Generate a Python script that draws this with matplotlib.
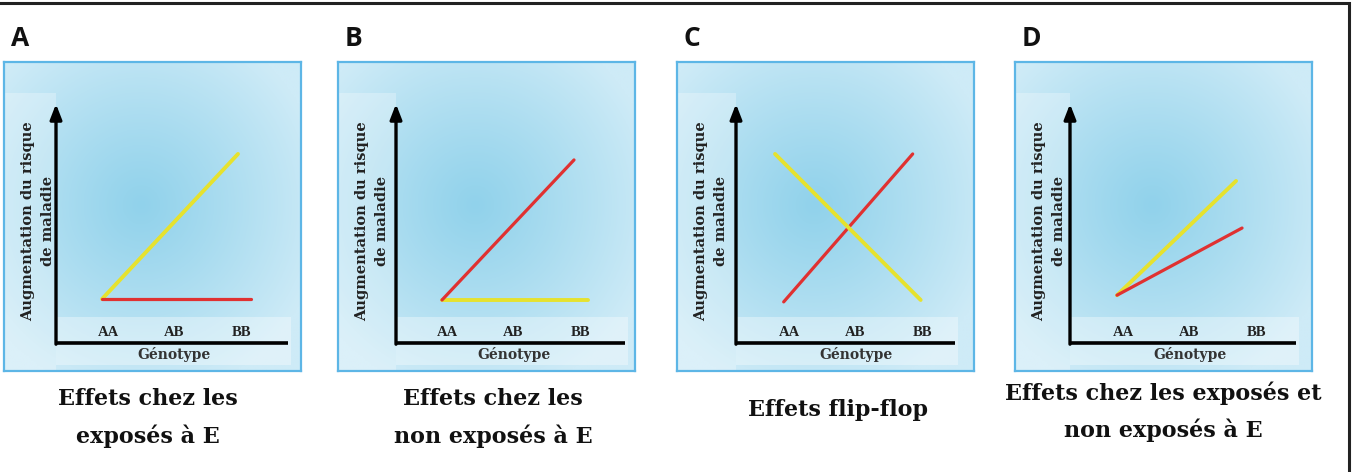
import numpy as np
import matplotlib
matplotlib.use("Agg")
import matplotlib.pyplot as plt
from matplotlib.patches import Rectangle

# ---------------- data ----------------
panel_letters = ["A", "B", "C", "D"]
genotypes = ["AA", "AB", "BB"]
x_label = "Génotype"
y_label = "Augmentation du risque\nde maladie"
titles = ["Effets chez les\nexposés à E",
          "Effets chez les\nnon exposés à E",
          "Effets flip-flop",
          "Effets chez les exposés et\nnon exposés à E"]

# line endpoints (x in genotype units AA=0..BB=2, y in risk units)
yellow_x = [[-0.09, 1.955], [-0.075, 2.12], [-0.21, 1.98], [-0.09, 1.70]]
yellow_y = [[1.84, 7.91], [1.80, 1.80], [7.91, 1.80], [2.00, 6.78]]
red_x = [[-0.09, 2.15], [-0.075, 1.91], [-0.08, 1.86], [-0.09, 1.79]]
red_y = [[1.84, 1.84], [1.80, 7.66], [1.72, 7.91], [2.00, 4.81]]

# ---------------- layout (pixels) ----------------
W, H = 1353, 472
fig = plt.figure(figsize=(W / 100, H / 100), dpi=100)

box_left = [4, 338, 677, 1015]
box_top, box_bottom, box_w = 62, 371, 297
aa_off = [104, 109, 112, 108]
yaxis_off = [52, 58, 59, 55]
xaxis_end_off = [284, 287, 278, 281]
unit_x = 66.5
axis_py, tip_py = 343, 104
unit_y = (axis_py - tip_py) / 10.0
title_cx = [148, 493, 838, 1163]
title_cy = [418, 418, 410, 412]

serif_b = {"family": "DejaVu Serif", "weight": "bold"}
tick_font = {"family": "Liberation Serif", "weight": "bold"}

YELLOW = "#e6e22e"
RED = "#e03131"
BORDER = "#5db6e6"

# background frame
fig.add_artist(Rectangle((-5 / W, -10 / H), (1349 + 5) / W, (H - 3 + 10) / H,
                         transform=fig.transFigure, fill=False,
                         edgecolor="#222222", linewidth=2.2))

# gradient image
gh, gw = 200, 200
yy, xx = np.mgrid[0:gh, 0:gw]
cx, cy = 0.46 * gw, 0.46 * gh
r = np.sqrt(((xx - cx) / (gw * 0.62)) ** 2 + ((yy - cy) / (gh * 0.62)) ** 2)
t = np.clip(r, 0, 1) ** 1.1
c0 = np.array([145, 210, 235]) / 255.0
c1 = np.array([206, 235, 247]) / 255.0
grad = c0[None, None, :] * (1 - t[..., None]) + c1[None, None, :] * t[..., None]

for i in range(4):
    bl = box_left[i]
    ax = fig.add_axes([bl / W, 1 - box_bottom / H, box_w / W, (box_bottom - box_top) / H])
    aa_px = bl + aa_off[i]
    x0 = (bl - aa_px) / unit_x
    x1 = (bl + box_w - aa_px) / unit_x
    y0 = -(box_bottom - axis_py) / unit_y
    y1 = (axis_py - box_top) / unit_y
    ax.set_xlim(x0, x1)
    ax.set_ylim(y0, y1)
    ax.set_xticks([])
    ax.set_yticks([])
    for s in ax.spines.values():
        s.set_edgecolor(BORDER)
        s.set_linewidth(1.6)
        s.set_zorder(10)
    ax.imshow(grad, extent=(x0, x1, y0, y1), aspect="auto", zorder=0, origin="upper")

    ya = (bl + yaxis_off[i] - aa_px) / unit_x
    xe = (bl + xaxis_end_off[i] - aa_px) / unit_x
    # lighter bands
    ax.add_patch(Rectangle((x0, y0), ya - x0, (axis_py - 93) / unit_y - y0,
                           facecolor="white", alpha=0.28, edgecolor="none", zorder=1))
    ax.add_patch(Rectangle((ya, -(365 - axis_py) / unit_y), xe - ya + 0.05,
                           (365 - 317) / unit_y,
                           facecolor="white", alpha=0.35, edgecolor="none", zorder=1))

    # axes lines
    ax.plot([ya, xe], [0, 0], color="black", lw=2.6, solid_capstyle="butt", zorder=5)
    ax.annotate("", xy=(ya, 10), xytext=(ya, -0.05),
                arrowprops=dict(arrowstyle="-|>,head_length=0.9,head_width=0.35",
                                color="black", lw=2.4, shrinkA=0, shrinkB=0),
                zorder=5)

    # series
    ax.plot(yellow_x[i], yellow_y[i], color=YELLOW, lw=2.8, zorder=4,
            solid_capstyle="round")
    ax.plot(red_x[i], red_y[i], color=RED, lw=2.3, zorder=4 if i != 2 else 3,
            solid_capstyle="round")

    # tick labels
    for k, g in enumerate(genotypes):
        ax.text(k, (axis_py - 332) / unit_y, g, ha="center", va="center",
                fontsize=10.5, color="#222222", zorder=6, **tick_font)
    ax.text(1, -(354 - axis_py) / unit_y, x_label, ha="center", va="center",
            fontsize=10, color="#333333", zorder=6, **serif_b)
    # y label
    ax.text((bl + 34 - aa_px) / unit_x, (axis_py - 221) / unit_y, y_label,
            rotation=90, ha="center", va="center", multialignment="center",
            fontsize=10.5, color="#222222", linespacing=1.55, zorder=6, **serif_b)

    # panel letter
    fig.text((bl + 7) / W, 1 - 38 / H, panel_letters[i], ha="left", va="center",
             fontsize=19, fontweight="bold", family="Open Sans", color="#111111")
    # title
    fig.text(title_cx[i] / W, 1 - title_cy[i] / H, titles[i], ha="center",
             va="center", fontsize=16, color="#111111", linespacing=1.75,
             multialignment="center", **serif_b)

fig.savefig("out.png", dpi=100)
